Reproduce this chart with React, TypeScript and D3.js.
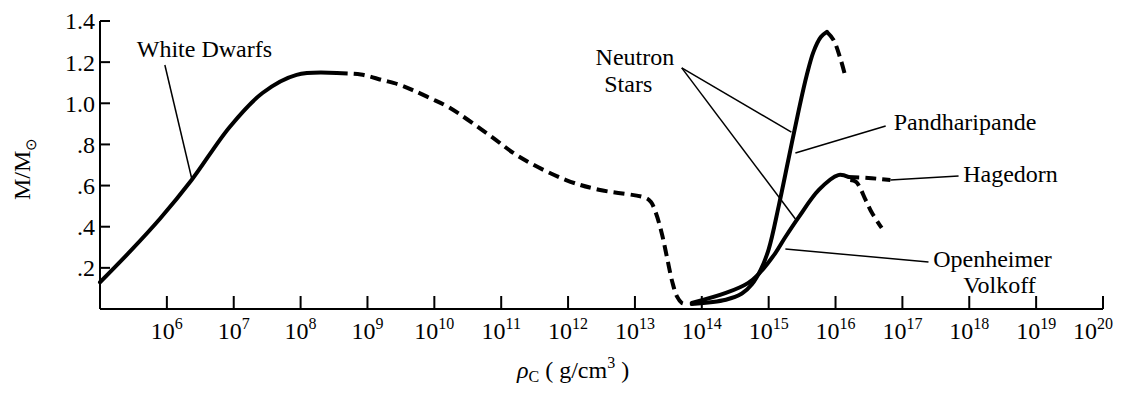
import React from "react";
import * as d3 from "d3";

// ---- data: [log10(rho_c), M/Msun] ----
const whiteDwarfSolid: [number, number][] = [
  [5.0, 0.13], [5.45, 0.28], [5.9, 0.44], [6.37, 0.627], [6.94, 0.885],
  [7.43, 1.05], [7.94, 1.138], [8.54, 1.147],
];
const whiteDwarfDashed: [number, number][] = [
  [8.54, 1.147], [8.9, 1.14], [9.22, 1.113], [9.48, 1.09], [9.67, 1.065], [9.93, 1.026],
  [10.22, 0.98], [10.82, 0.846], [11.27, 0.74], [11.97, 0.627], [12.46, 0.58],
  [13.16, 0.54], [13.24, 0.52], [13.31, 0.47], [13.4, 0.37], [13.48, 0.25],
  [13.56, 0.13], [13.63, 0.06], [13.7, 0.03], [13.78, 0.024],
];
const pandharipandeSolid: [number, number][] = [
  [13.85, 0.024], [14.36, 0.045], [14.6, 0.075], [14.75, 0.12], [14.88, 0.19],
  [15.0, 0.29], [15.15, 0.5], [15.3, 0.734], [15.45, 0.967], [15.57, 1.137],
  [15.67, 1.25], [15.78, 1.322], [15.87, 1.347],
];
const pandharipandeDashed: [number, number][] = [
  [15.87, 1.347], [15.97, 1.308], [16.07, 1.22], [16.15, 1.128],
];
const oppenheimerSolid: [number, number][] = [
  [13.85, 0.029], [14.36, 0.078], [14.69, 0.126], [14.85, 0.17], [15.1, 0.272],
  [15.25, 0.35], [15.45, 0.447], [15.75, 0.579], [16.04, 0.651], [16.19, 0.642],
];
const hagedornDashed: [number, number][] = [
  [16.19, 0.642], [16.49, 0.637], [16.82, 0.627],
];
const oppenheimerDashed: [number, number][] = [
  [16.22, 0.627], [16.31, 0.617], [16.45, 0.53], [16.54, 0.47], [16.69, 0.394],
];

const xTickExponents = [6, 7, 8, 9, 10, 11, 12, 13, 14, 15, 16, 17, 18, 19, 20];
const yTicks = [0.2, 0.4, 0.6, 0.8, 1.0, 1.2, 1.4];
const yTickLabels = [".2", ".4", ".6", ".8", "1.0", "1.2", "1.4"];

// leader lines [from, to] in data coords
const leaders: [[number, number], [number, number]][] = [
  [[5.97, 1.186], [6.37, 0.637]],
  [[13.7, 1.172], [15.34, 0.86]],
  [[13.7, 1.172], [15.4, 0.4375]],
  [[15.4, 0.758], [16.75, 0.89]],
  [[16.82, 0.627], [17.84, 0.647]],
  [[15.25, 0.292], [17.39, 0.228]],
];

const labels: { text: string; at: [number, number]; anchor: string }[] = [
  { text: "White Dwarfs", at: [5.55, 1.225], anchor: "start" },
  { text: "Neutron", at: [13.0, 1.186], anchor: "middle" },
  { text: "Stars", at: [12.9, 1.055], anchor: "middle" },
  { text: "Pandharipande", at: [16.87, 0.87], anchor: "start" },
  { text: "Hagedorn", at: [17.91, 0.617], anchor: "start" },
  { text: "Openheimer", at: [17.46, 0.204], anchor: "start" },
  { text: "Volkoff", at: [17.91, 0.078], anchor: "start" },
];

const W = 1122;
const H = 394;
const FONT = "'Liberation Serif', 'Times New Roman', serif";

export default function App() {
  const x = d3.scaleLog().domain([1e5, 1e20]).range([100, 1103]);
  const y = d3.scaleLinear().domain([0, 1.4]).range([309, 21]);
  const px = (l: number) => x(Math.pow(10, l));

  const line = d3
    .line<[number, number]>()
    .x((d) => px(d[0]))
    .y((d) => y(d[1]))
    .curve(d3.curveCatmullRom.alpha(0.5));

  const x0 = x(1e5);
  const x1 = x(1e20);
  const y0 = y(0);

  const solid = { fill: "none", stroke: "#000", strokeWidth: 4, strokeLinecap: "round" as const };
  const dashed = { ...solid, strokeLinecap: "butt" as const, strokeDasharray: "11 6" };

  return (
    <svg
      width={W}
      height={H}
      style={{ position: "absolute", left: 0, top: 0, background: "#fff" }}
      fontFamily={FONT}
    >
      <rect x={0} y={0} width={W} height={H} fill="#fff" />
      {/* axes */}
      <line x1={x0} x2={x1} y1={y0} y2={y0} stroke="#000" strokeWidth={2} />
      <line x1={x0} x2={x0} y1={y0} y2={y(1.4)} stroke="#000" strokeWidth={2} />
      {xTickExponents.map((e, i) => {
        const last = i === xTickExponents.length - 1;
        return (
          <g key={e}>
            <line x1={px(e)} x2={px(e)} y1={y0} y2={y0 - 13} stroke="#000" strokeWidth={2} />
            <text
              x={last ? px(e) + 10 : px(e)}
              y={339}
              textAnchor={last ? "end" : "middle"}
              fontSize={24}
              fill="#000"
            >
              10
              <tspan fontSize={16} dy={-10}>
                {e}
              </tspan>
            </text>
          </g>
        );
      })}
      {yTicks.map((t, i) => (
        <g key={t}>
          <line x1={x0} x2={x0 + 10} y1={y(t)} y2={y(t)} stroke="#000" strokeWidth={2} />
          <text x={x0 - 5} y={y(t)} dy="0.35em" textAnchor="end" fontSize={24} fill="#000">
            {yTickLabels[i]}
          </text>
        </g>
      ))}
      {/* axis titles */}
      <text x={517} y={378} fontSize={24} fill="#000">
        <tspan fontStyle="italic">ρ</tspan>
        <tspan fontSize={16} dy={4}>C</tspan>
        <tspan dy={-4}> ( g/cm</tspan>
        <tspan fontSize={16} dy={-10}>3</tspan>
        <tspan dy={10}> )</tspan>
      </text>
      <text transform="translate(30,200) rotate(-90)" fontSize={24} fill="#000">
        M/M
        <tspan fontSize={15} dy={6}>⊙</tspan>
      </text>

      {/* curves */}
      <path d={line(whiteDwarfSolid) || ""} {...solid} />
      <path d={line(whiteDwarfDashed) || ""} {...dashed} />
      <path d={line(pandharipandeSolid) || ""} {...solid} />
      <path d={line(pandharipandeDashed) || ""} {...dashed} />
      <path d={line(oppenheimerSolid) || ""} {...solid} />
      <path d={line(hagedornDashed) || ""} {...dashed} />
      <path d={line(oppenheimerDashed) || ""} {...dashed} />

      {/* leaders */}
      {leaders.map((l, i) => (
        <line
          key={i}
          x1={px(l[0][0])}
          y1={y(l[0][1])}
          x2={px(l[1][0])}
          y2={y(l[1][1])}
          stroke="#000"
          strokeWidth={1.5}
        />
      ))}
      {labels.map((lb) => (
        <text
          key={lb.text}
          x={px(lb.at[0])}
          y={y(lb.at[1])}
          textAnchor={lb.anchor as any}
          fontSize={24}
          fill="#000"
        >
          {lb.text}
        </text>
      ))}
    </svg>
  );
}
